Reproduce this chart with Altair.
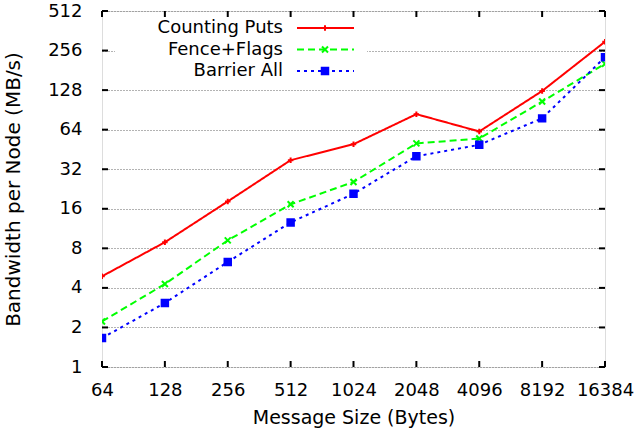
import altair as alt
import pandas as pd

sizes = [64, 128, 256, 512, 1024, 2048, 4096, 8192, 16384]
series_names = ["Counting Puts", "Fence+Flags", "Barrier All"]
counting_puts = [4.9, 8.9, 18.2, 37.5, 49.6, 84, 62, 126, 299]
fence_flags = [2.22, 4.28, 9.2, 17.3, 25.6, 50.3, 54.8, 104.7, 203]
barrier_all = [1.66, 3.07, 6.3, 12.6, 20.8, 40.2, 49.1, 78, 228]
y_ticks = [1, 2, 4, 8, 16, 32, 64, 128, 256, 512]

colors = ["#ff0000", "#00ff00", "#0000ff"]
fills = ["transparent", "transparent", "#0000ff"]
dashes = [[1, 0], [7, 4], [3, 4]]
shapes = ["M-1,0L1,0M0,-1L0,1", "M-1,-1L1,1M-1,1L1,-1", "M-1,-1L1,-1L1,1L-1,1Z"]
marker_sizes = [30, 42, 22]

rows = []
for name, vals in zip(series_names, [counting_puts, fence_flags, barrier_all]):
    for s, v in zip(sizes, vals):
        rows.append({"size": s, "bw": v, "series": name})
df = pd.DataFrame(rows)
leg_df = pd.DataFrame({"series": series_names})

W, H = 503, 356
FONT = "DejaVu Sans"

xs = alt.Scale(type="log", base=2, domain=[64, 16384])
ys = alt.Scale(type="log", base=2, domain=[1, 512])
color_scale = alt.Scale(domain=series_names, range=colors)
fill_scale = alt.Scale(domain=series_names, range=fills)
dash_scale = alt.Scale(domain=series_names, range=dashes)
shape_scale = alt.Scale(domain=series_names, range=shapes)
size_scale = alt.Scale(domain=series_names, range=marker_sizes)
leg_y = alt.Scale(type="point", domain=series_names, range=[17, 60], padding=0)

x_axis = alt.Axis(
    values=sizes, format="d", title="Message Size (Bytes)", grid=False,
    domain=False, ticks=False, labelPadding=14, labelFontSize=18,
    titleFontSize=19, titlePadding=9, labelFont=FONT, titleFont=FONT,
    titleFontWeight="normal", labelColor="black", titleColor="black",
    labelFlush=False)
y_axis = alt.Axis(
    values=y_ticks, format="d", title="Bandwidth per Node (MB/s)", grid=True,
    gridDash=[1, 2], gridColor="#666666", gridWidth=1,
    domain=False, ticks=False, labelPadding=20, labelFontSize=18,
    titleFontSize=20, titlePadding=24, labelFont=FONT, titleFont=FONT,
    titleFontWeight="normal", labelColor="black", titleColor="black",
    labelFlush=False)


def marker_enc():
    return dict(
        color=alt.Color("series:N", scale=color_scale, legend=None),
        fill=alt.Fill("series:N", scale=fill_scale, legend=None),
        shape=alt.Shape("series:N", scale=shape_scale, legend=None),
        size=alt.Size("series:N", scale=size_scale, legend=None),
    )


lines = alt.Chart(df).mark_line(strokeWidth=2, clip=True).encode(
    x=alt.X("size:Q", scale=xs, axis=x_axis, title="Message Size (Bytes)"),
    y=alt.Y("bw:Q", scale=ys, axis=y_axis),
    color=alt.Color("series:N", scale=color_scale, legend=None),
    strokeDash=alt.StrokeDash("series:N", scale=dash_scale, legend=None),
)

points = alt.Chart(df).mark_point(filled=False, strokeWidth=2, opacity=1, clip=True).encode(
    x=alt.X("size:Q", scale=xs, axis=x_axis, title="Message Size (Bytes)"),
    y=alt.Y("bw:Q", scale=ys, axis=None),
    **marker_enc(),
)

xt = pd.DataFrame({"v": sizes})
yt = pd.DataFrame({"v": y_ticks})
tick_style = dict(color="black", strokeWidth=2)
xb = alt.Chart(xt).mark_rule(**tick_style).encode(
    x=alt.X("v:Q", scale=xs, axis=x_axis, title="Message Size (Bytes)"),
    y=alt.value(H), y2=alt.value(H - 6))
xtop = alt.Chart(xt).mark_rule(**tick_style).encode(
    x=alt.X("v:Q", scale=xs, axis=x_axis, title="Message Size (Bytes)"),
    y=alt.value(0), y2=alt.value(6))
yl = alt.Chart(yt).mark_rule(**tick_style).encode(
    y=alt.Y("v:Q", scale=ys, axis=None), x=alt.value(0), x2=alt.value(6))
yr = alt.Chart(yt).mark_rule(**tick_style).encode(
    y=alt.Y("v:Q", scale=ys, axis=None), x=alt.value(W - 6), x2=alt.value(W))

leg_lines = alt.Chart(leg_df).mark_rule(strokeWidth=2).encode(
    x=alt.value(195), x2=alt.value(252),
    y=alt.Y("series:N", scale=leg_y, axis=None),
    color=alt.Color("series:N", scale=color_scale, legend=None),
    strokeDash=alt.StrokeDash("series:N", scale=dash_scale, legend=None),
)
leg_pts = alt.Chart(leg_df).mark_point(filled=False, strokeWidth=2, opacity=1).encode(
    x=alt.value(223),
    y=alt.Y("series:N", scale=leg_y, axis=None),
    **marker_enc(),
)
leg_text = alt.Chart(leg_df).mark_text(
    align="right", baseline="middle", fontSize=18, font=FONT, color="black").encode(
    x=alt.value(181),
    y=alt.Y("series:N", scale=leg_y, axis=None),
    text="series:N",
)

# white box behind the key, masking the grid line it covers
bg = alt.Chart(pd.DataFrame({"a": [0]})).mark_rect(color="white").encode(
    x=alt.value(13), x2=alt.value(265), y=alt.value(3), y2=alt.value(75))

chart = alt.layer(bg, lines, points, xb, xtop, yl, yr, leg_lines, leg_pts, leg_text).resolve_scale(
    y="independent"
).properties(
    width=W, height=H,
    autosize=alt.AutoSizeParams(type="none"),
    padding={"left": 102, "top": 11, "right": 33, "bottom": 71},
).configure_view(stroke="black", strokeWidth=3).configure(background="white")

chart.save("out.html", embed_options={"renderer": "svg", "actions": False})
